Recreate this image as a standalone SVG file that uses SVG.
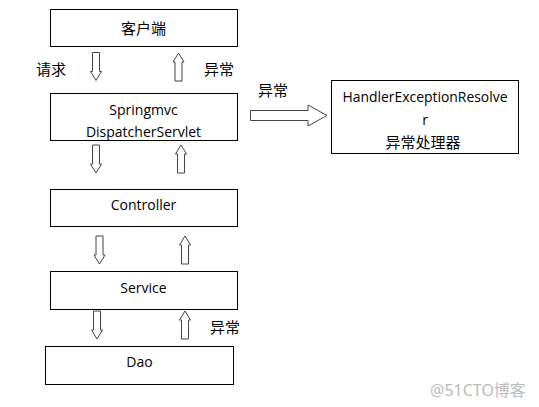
<svg xmlns="http://www.w3.org/2000/svg" width="539" height="407" viewBox="0 0 539 407">
<defs>
<style>
.box{fill:#fff;stroke:#000;stroke-width:1}
.en{font-family:"Open Sans","Noto Sans",sans-serif;font-size:14px;fill:#000;text-anchor:middle}
.zh{font-family:"Noto Sans CJK SC",sans-serif;font-size:15px;fill:#000}
.arr{fill:#fff;stroke:#444;stroke-width:1}
</style>
<path id="down" d="M-3.5,0 H3.5 V19 H5.5 L0,28 L-5.5,19 H-3.5 Z"/>
<path id="up" d="M-3.5,28 H3.5 V9 H5.5 L0,0 L-5.5,9 H-3.5 Z"/>
</defs>
<rect width="539" height="407" fill="#fff"/>
<g id="client"><rect class="box" x="50.5" y="9.5" width="187" height="37"/><text class="zh" x="143.5" y="34" text-anchor="middle">客户端</text></g>
<g id="dispatcher"><rect class="box" x="50.5" y="93.5" width="187" height="47"/><text class="en" x="143.5" y="115">Springmvc</text><text class="en" x="143.5" y="137">DispatcherServlet</text></g>
<g id="controller"><rect class="box" x="50.5" y="189.5" width="187" height="37"/><text class="en" x="143.5" y="210">Controller</text></g>
<g id="service"><rect class="box" x="50.5" y="271.5" width="187" height="38"/><text class="en" x="143.5" y="293">Service</text></g>
<g id="dao"><rect class="box" x="45.5" y="346.5" width="188" height="38"/><text class="en" x="139.5" y="367">Dao</text></g>
<g id="resolver"><rect class="box" x="331.5" y="80.5" width="187" height="73"/><text class="en" x="425" y="102" textLength="165" lengthAdjust="spacingAndGlyphs">HandlerExceptionResolve</text><text class="en" x="425" y="125">r</text><text class="zh" x="423" y="148" text-anchor="middle" font-size="16">异常处理器</text></g>
<g id="connectors">
<use href="#down" class="arr" transform="translate(96,52.5)"/>
<use href="#up" class="arr" transform="translate(178.5,53)"/>
<use href="#down" class="arr" transform="translate(96,145)"/>
<use href="#up" class="arr" transform="translate(181,145)"/>
<use href="#down" class="arr" transform="translate(99.5,236)"/>
<use href="#up" class="arr" transform="translate(185,236)"/>
<use href="#down" class="arr" transform="translate(97,311)"/>
<use href="#up" class="arr" transform="translate(185,311)"/>
<path class="arr" d="M250.5,110.5 H308 V105 L327,115.5 L308,126 V120.5 H250.5 Z"/>
<text class="zh" x="36" y="75">请求</text>
<text class="zh" x="204" y="75">异常</text>
<text class="zh" x="258" y="96">异常</text>
<text class="zh" x="210" y="333">异常</text>
</g>
<text x="430" y="396" style="font-family:'Noto Sans','Noto Sans CJK SC',sans-serif;font-size:16px;fill:#bbb">@51CTO博客</text>
</svg>
